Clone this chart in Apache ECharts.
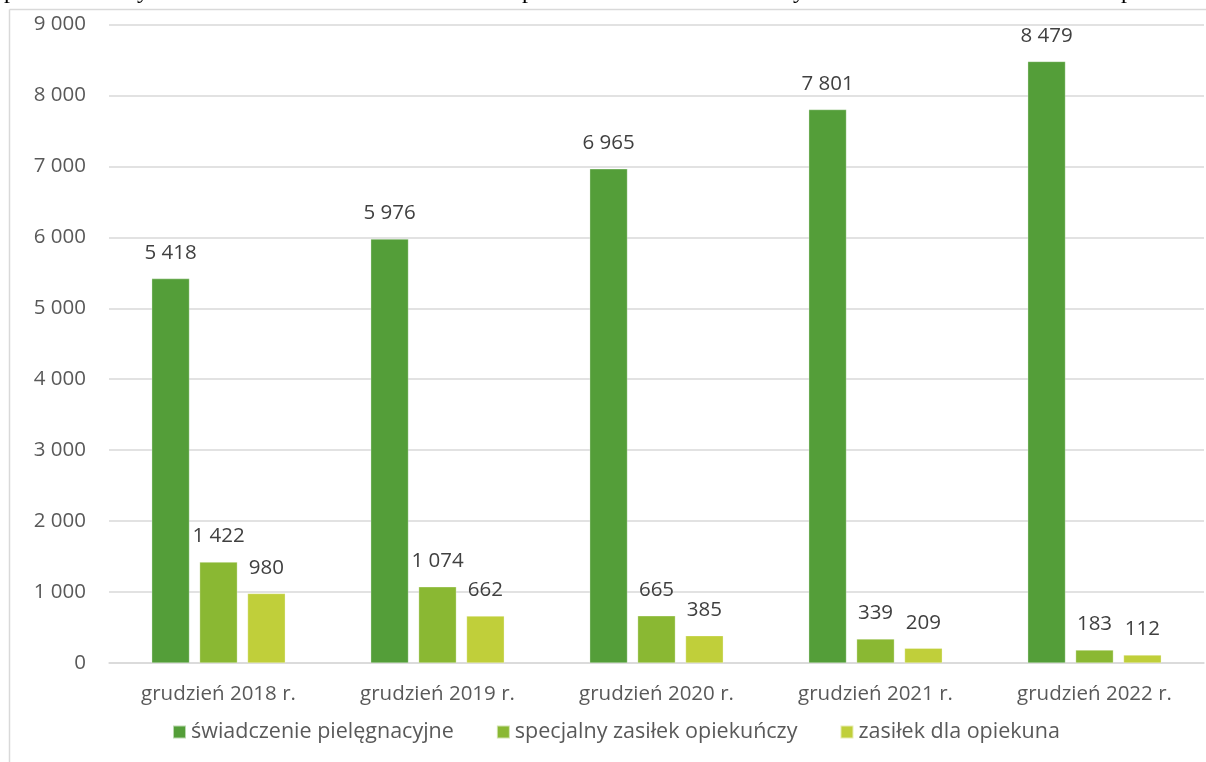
<!DOCTYPE html>
<html>
<head>
<meta charset="utf-8">
<script src="https://cdn.jsdelivr.net/npm/echarts@6/dist/echarts.min.js"></script>
<style>
html,body{margin:0;padding:0;background:#fff;}
#chart{width:1206px;height:762px;}
</style>
</head>
<body>
<div id="chart"></div>
<script>
const categories = ['grudzień 2018 r.', 'grudzień 2019 r.', 'grudzień 2020 r.', 'grudzień 2021 r.', 'grudzień 2022 r.'];
const seriesNames = ['świadczenie pielęgnacyjne', 'specjalny zasiłek opiekuńczy', 'zasiłek dla opiekuna'];
const swiadczenie = [5418, 5976, 6965, 7801, 8479];
const specjalny = [1422, 1074, 665, 339, 183];
const zasilek = [980, 662, 385, 209, 112];
const yTicks = [0, 1000, 2000, 3000, 4000, 5000, 6000, 7000, 8000, 9000];
const colors = ['#549E39', '#8AB833', '#C0CF3A'];

const FONT = 'Open Sans';
const FS = 20.5;
const fmt = v => String(v).replace(/\B(?=(\d{3})+(?!\d))/g, ' ');

const chart = echarts.init(document.getElementById('chart'), null, {renderer: 'canvas'});

function mkSeries(name, data, color) {
  return {
    name: name,
    type: 'bar',
    data: data,
    barGap: '27%',
    barCategoryGap: '39%',
    itemStyle: {color: color, borderColor: 'rgba(255,255,255,0.6)', borderWidth: 0.5},
    label: {
      show: true,
      position: 'top',
      distance: 15,
      color: '#404040',
      fontFamily: FONT,
      fontSize: FS,
      formatter: p => fmt(p.value)
    }
  };
}

chart.setOption({
  animation: false,
  backgroundColor: '#fff',
  color: colors,
  grid: {left: 109, right: 2, top: 24.5, bottom: 99, containLabel: false},
  xAxis: {
    type: 'category',
    data: categories,
    axisLine: {lineStyle: {color: '#d9d9d9', width: 1.5}},
    axisTick: {show: false},
    axisLabel: {color: '#595959', fontFamily: FONT, fontSize: FS, margin: 21}
  },
  yAxis: {
    type: 'value',
    min: yTicks[0],
    max: yTicks[yTicks.length - 1],
    interval: 1000,
    axisLine: {show: false},
    axisTick: {show: false},
    splitLine: {lineStyle: {color: '#d9d9d9', width: 1.5}},
    axisLabel: {color: '#595959', fontFamily: FONT, fontSize: FS, margin: 23, formatter: v => fmt(v)}
  },
  legend: {
    data: seriesNames,
    bottom: 14,
    left: 167,
    itemWidth: 13,
    itemHeight: 13,
    itemGap: 42,
    icon: 'rect',
    textStyle: {color: '#595959', fontFamily: FONT, fontSize: 21.5}
  },
  graphic: [
    {type: 'line', shape: {x1: 9.5, y1: 9.5, x2: 1206, y2: 9.5}, style: {stroke: '#d9d9d9', lineWidth: 1.5}, silent: true},
    {type: 'line', shape: {x1: 9.5, y1: 9.5, x2: 9.5, y2: 762}, style: {stroke: '#d9d9d9', lineWidth: 1.5}, silent: true},
    {type: 'text', x: 4, y: -20, style: {text: 'p', font: '24px "Liberation Serif"', fill: '#000'}, silent: true},
    {type: 'text', x: 137, y: -20, style: {text: 'y', font: '24px "Liberation Serif"', fill: '#000'}, silent: true},
    {type: 'text', x: 522, y: -20, style: {text: 'p', font: '24px "Liberation Serif"', fill: '#000'}, silent: true},
    {type: 'text', x: 793, y: -20, style: {text: 'y', font: '24px "Liberation Serif"', fill: '#000'}, silent: true},
    {type: 'text', x: 1121, y: -20, style: {text: 'p', font: '24px "Liberation Serif"', fill: '#000'}, silent: true}
  ],
  series: [
    mkSeries(seriesNames[0], swiadczenie, colors[0]),
    mkSeries(seriesNames[1], specjalny, colors[1]),
    mkSeries(seriesNames[2], zasilek, colors[2])
  ]
});
</script>
</body>
</html>
